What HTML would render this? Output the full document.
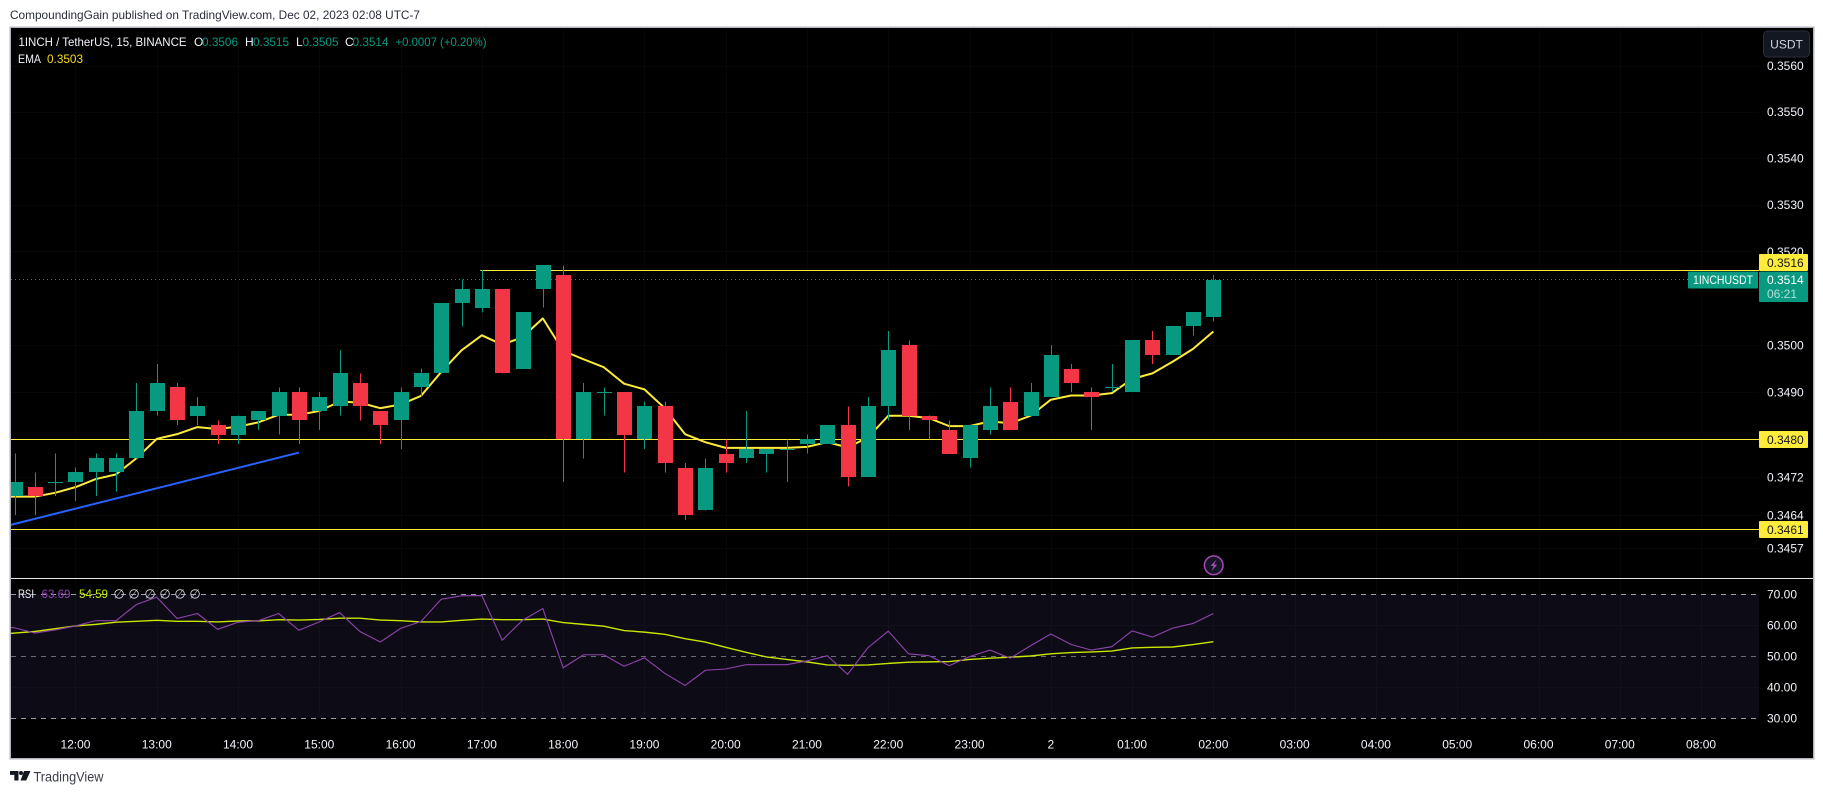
<!DOCTYPE html>
<html lang="en">
<head>
<meta charset="utf-8">
<title>1INCH / TetherUS chart</title>
<style>
html,body{margin:0;padding:0;background:#fff;width:1823px;height:794px;overflow:hidden}
svg{display:block;position:absolute;left:0;top:0}
text{font-family:"Liberation Sans",sans-serif}
</style>
</head>
<body>
<svg id="chart" xmlns="http://www.w3.org/2000/svg" width="1823" height="794" viewBox="0 0 1823 794">
  <defs>
    <clipPath id="plot-clip"><rect x="11" y="28" width="1748" height="550"></rect></clipPath>
    <clipPath id="rsi-clip"><rect x="11" y="579" width="1748" height="140"></rect></clipPath>
  </defs>
  <rect x="0" y="0" width="1823" height="794" fill="#ffffff"></rect>
  <text x="10" y="19" font-size="12" fill="#2a2e39" textLength="410" lengthAdjust="spacingAndGlyphs">CompoundingGain published on TradingView.com, Dec 02, 2023 02:08 UTC-7</text>
  <rect x="10.25" y="27.25" width="1803.5" height="731.5" fill="#000000" stroke="#b2b5be" stroke-width="1.5"></rect>
  <g id="grid"></g>
  <rect x="11" y="594" width="1748" height="124" fill="#0d0b15"></rect>
  <g id="rsi-grid"></g>
  <g id="levels" clip-path="url(#plot-clip)"></g>
  <g id="ema" clip-path="url(#plot-clip)"></g>
  <g id="candles" clip-path="url(#plot-clip)"></g>
  <line x1="11" x2="1813" y1="578.5" y2="578.5" stroke="#e8e9ee" stroke-width="1"></line>
  <g id="rsi-levels"></g>
  <g id="rsi-lines" clip-path="url(#rsi-clip)"></g>
  <g id="price-axis"></g>
  <g id="rsi-axis"></g>
  <g id="time-axis"></g>

  <g font-size="12">
    <text x="18.5" y="46" fill="#f0f3fa" textLength="168" lengthAdjust="spacingAndGlyphs">1INCH / TetherUS, 15, BINANCE</text>
    <text x="194" y="46" fill="#f0f3fa">O</text>
    <text x="202" y="46" fill="#089981" textLength="36" lengthAdjust="spacingAndGlyphs">0.3506</text>
    <text x="245" y="46" fill="#f0f3fa">H</text>
    <text x="253" y="46" fill="#089981" textLength="36" lengthAdjust="spacingAndGlyphs">0.3515</text>
    <text x="296" y="46" fill="#f0f3fa">L</text>
    <text x="302.5" y="46" fill="#089981" textLength="36" lengthAdjust="spacingAndGlyphs">0.3505</text>
    <text x="345" y="46" fill="#f0f3fa">C</text>
    <text x="352.5" y="46" fill="#089981" textLength="36" lengthAdjust="spacingAndGlyphs">0.3514</text>
    <text x="395.5" y="46" fill="#089981" textLength="91" lengthAdjust="spacingAndGlyphs">+0.0007 (+0.20%)</text>
    <text x="18" y="63" fill="#f0f3fa" textLength="23" lengthAdjust="spacingAndGlyphs">EMA</text>
    <text x="47" y="63" fill="#f7dd1e" textLength="36" lengthAdjust="spacingAndGlyphs">0.3503</text>
  </g>

  <g font-size="12">
    <text x="18" y="598" fill="#f0f3fa" textLength="16" lengthAdjust="spacingAndGlyphs">RSI</text>
    <text x="41.5" y="598" fill="#8e44ad" textLength="29" lengthAdjust="spacingAndGlyphs">63.69</text>
    <text x="79" y="598" fill="#c8f000" textLength="29" lengthAdjust="spacingAndGlyphs">54.59</text>
    <text x="119" y="598.5" fill="#d1d4dc" font-size="13" style="font-family:'DejaVu Sans',sans-serif" text-anchor="middle">∅</text>
    <text x="134" y="598.5" fill="#d1d4dc" font-size="13" style="font-family:'DejaVu Sans',sans-serif" text-anchor="middle">∅</text>
    <text x="150" y="598.5" fill="#d1d4dc" font-size="13" style="font-family:'DejaVu Sans',sans-serif" text-anchor="middle">∅</text>
    <text x="165" y="598.5" fill="#d1d4dc" font-size="13" style="font-family:'DejaVu Sans',sans-serif" text-anchor="middle">∅</text>
    <text x="180" y="598.5" fill="#d1d4dc" font-size="13" style="font-family:'DejaVu Sans',sans-serif" text-anchor="middle">∅</text>
    <text x="195" y="598.5" fill="#d1d4dc" font-size="13" style="font-family:'DejaVu Sans',sans-serif" text-anchor="middle">∅</text>
  </g>

  <g>
    <rect x="1763.5" y="31" width="46" height="26" rx="4" fill="#131722" stroke="#2a2e39"></rect>
    <text x="1786.5" y="48.5" font-size="12" fill="#d1d4dc" text-anchor="middle">USDT</text>
  </g>

  <g>
    <circle cx="1213.7" cy="565.3" r="9.3" fill="#131722" stroke="#ab47bc" stroke-width="1.5"></circle>
    <path d="M1216.5 559.5 L1210.5 566 L1213.6 566 L1211.5 571.3 L1217.2 564.6 L1214 564.6 Z" fill="#ab47bc"></path>
  </g>

  <g>
    <path d="M10 771h8.5v9.5h-4.2v-5.6H10z M24 771h6.5l-4.3 9.5h-5.7z" fill="#131722"></path>
    <circle cx="21" cy="773" r="2" fill="#131722"></circle>
    <text x="33.5" y="781.5" font-size="14" fill="#3a3d47" textLength="70" lengthAdjust="spacingAndGlyphs">TradingView</text>
  </g>
</svg>

<script>
// ---- price series (OHLC) ----
const opens = [0.3468,0.3470,0.3471,0.3471,0.3473,0.3473,0.3476,0.3486,0.3491,0.3485,0.3483,0.3481,0.3484,0.3485,0.3490,0.3486,0.3487,0.3492,0.3486,0.3484,0.3491,0.3494,0.3509,0.3508,0.3512,0.3495,0.3512,0.3515,0.3480,0.3490,0.3490,0.3480,0.3487,0.3474,0.3465,0.3477,0.3476,0.3477,0.3478,0.3479,0.3479,0.3483,0.3472,0.3487,0.3500,0.3485,0.3482,0.3476,0.3482,0.3488,0.3485,0.3489,0.3495,0.3490,0.3491,0.3490,0.3501,0.3498,0.3504,0.3506];
const highs = [0.3477,0.3473,0.3477,0.3474,0.3477,0.3477,0.3492,0.3496,0.3492,0.3489,0.3484,0.3485,0.3486,0.3491,0.3491,0.3490,0.3499,0.3494,0.3486,0.3491,0.3495,0.3509,0.3514,0.3516,0.3512,0.3507,0.3517,0.3517,0.3492,0.3491,0.3490,0.3488,0.3488,0.3475,0.3476,0.3480,0.3486,0.3478,0.3480,0.3481,0.3483,0.3487,0.3489,0.3503,0.3501,0.3485,0.3484,0.3483,0.3491,0.3491,0.3492,0.3500,0.3496,0.3491,0.3496,0.3501,0.3503,0.3504,0.3507,0.3515];
const lows = [0.3464,0.3464,0.3468,0.3467,0.3468,0.3469,0.3476,0.3485,0.3483,0.3483,0.3479,0.3479,0.3482,0.3481,0.3479,0.3482,0.3485,0.3484,0.3479,0.3478,0.3489,0.3494,0.3504,0.3507,0.3494,0.3495,0.3508,0.3471,0.3476,0.3485,0.3473,0.3478,0.3473,0.3463,0.3465,0.3473,0.3475,0.3473,0.3471,0.3477,0.3479,0.3470,0.3472,0.3484,0.3482,0.3480,0.3477,0.3474,0.3481,0.3482,0.3485,0.3489,0.3490,0.3482,0.3490,0.3490,0.3496,0.3498,0.3502,0.3505];
const closes = [0.3471,0.3468,0.3471,0.3473,0.3476,0.3476,0.3486,0.3492,0.3484,0.3487,0.3481,0.3485,0.3486,0.3490,0.3484,0.3489,0.3494,0.3487,0.3483,0.3490,0.3494,0.3509,0.3512,0.3512,0.3494,0.3507,0.3517,0.3480,0.3490,0.3490,0.3481,0.3487,0.3475,0.3464,0.3474,0.3475,0.3478,0.3478,0.3478,0.3480,0.3483,0.3472,0.3487,0.3499,0.3485,0.3484,0.3477,0.3483,0.3487,0.3482,0.3490,0.3498,0.3492,0.3489,0.3491,0.3501,0.3498,0.3504,0.3507,0.3514];

// ---- EMA overlay (first value belongs to the bar just off the left edge) ----
const emaValues = [0.34679,0.34679,0.34679,0.34687,0.34699,0.34716,0.34726,0.34760,0.34801,0.34811,0.34826,0.34822,0.34827,0.34836,0.34852,0.34852,0.34860,0.34880,0.34878,0.34866,0.34874,0.34892,0.34943,0.34989,0.35021,0.35001,0.35017,0.35057,0.34988,0.34970,0.34953,0.34918,0.34906,0.34866,0.34811,0.34794,0.34782,0.34782,0.34782,0.34782,0.34784,0.34794,0.34783,0.34804,0.34850,0.34850,0.34845,0.34828,0.34828,0.34838,0.34834,0.34850,0.34884,0.34893,0.34893,0.34898,0.34928,0.34940,0.34965,0.34992,0.35029];

// ---- RSI pane (first value belongs to the bar just off the left edge) ----
const rsiValues = [59.8,59.2,57.5,58.5,59.8,61.5,61.5,66.7,69.1,62.2,63.8,58.7,61.0,61.5,63.8,58.4,61.1,64.1,58.0,54.6,59.0,61.2,68.4,69.5,69.6,55.2,61.6,65.4,46.3,50.5,50.5,46.8,49.5,44.5,40.6,45.5,45.9,47.3,47.3,47.3,48.5,50.2,44.2,52.8,58.1,50.8,50.2,47.0,49.9,52.0,49.4,53.4,57.2,53.8,52.0,53.1,58.2,56.2,59.1,60.6,63.8];
const rsiMaValues = [56.9,57.5,58.0,58.9,59.8,60.3,61.0,61.3,61.6,61.3,61.3,61.1,61.4,61.4,61.8,61.7,61.9,62.3,62.3,61.7,61.5,61.1,61.1,61.6,62.0,61.8,61.8,62.0,60.9,60.3,59.7,58.3,57.8,57.1,55.7,54.6,52.9,51.3,49.8,49.0,48.2,47.2,47.1,47.2,47.7,48.1,48.2,48.3,49.0,49.4,49.7,50.1,50.8,51.2,51.4,51.7,52.7,52.9,53.0,53.8,54.7];

// ---- axis labels ----
const priceTicks = [0.3560,0.3550,0.3540,0.3530,0.3520,0.3500,0.3490,0.3472,0.3464,0.3457];
const rsiTicks = [70,60,50,40,30];
const rsiLevels = [70,50,30];
const timeLabels = ['12:00','13:00','14:00','15:00','16:00','17:00','18:00','19:00','20:00','21:00','22:00','23:00','2','01:00','02:00','03:00','04:00','05:00','06:00','07:00','08:00'];

// ---- drawings ----
const levelPrices = [0.3516,0.3480,0.3461];
const levelStartIndex = [23,-1,-1];
const trendPrices = [0.34619,0.34772];
const trendIndexes = [-0.22,14];
const lastPrice = 0.3514;

const NS = 'http://www.w3.org/2000/svg';
const GREEN = '#089981', RED = '#f23645', YELLOW = '#ffeb3b';
const PANE_RIGHT = 1759, PANE_LEFT = 11;

function xAt(i){ return 14.5 + 20.32 * i; }
function yPrice(p){ return 65.7 + 16440 * Math.log(0.3560 / p); }
function yRsi(v){ return 656.3 - (v - 50) * 3.1; }
function make(tag, attrs, parent){
  const el = document.createElementNS(NS, tag);
  for (const k in attrs) el.setAttribute(k, attrs[k]);
  parent.appendChild(el);
  return el;
}
function linePath(values, yFn){
  return values.map(function(v, i){ return (i ? 'L' : 'M') + xAt(i - 1).toFixed(2) + ' ' + yFn(v).toFixed(2); }).join(' ');
}

const gridG = document.getElementById('grid');
const rsiGridG = document.getElementById('rsi-grid');
const levelsG = document.getElementById('levels');
const emaG = document.getElementById('ema');
const candlesG = document.getElementById('candles');
const rsiLevelsG = document.getElementById('rsi-levels');
const rsiLinesG = document.getElementById('rsi-lines');
const priceAxisG = document.getElementById('price-axis');
const rsiAxisG = document.getElementById('rsi-axis');
const timeAxisG = document.getElementById('time-axis');

// grid + time axis
timeLabels.forEach(function(label, k){
  const x = Math.round(xAt(3 + 4 * k)) + 0.5;
  const g = make('line', {x1:x, x2:x, y1:28, y2:719, stroke:'#070707', 'stroke-width':1}, gridG);
  
  
  const g2 = make('line', {x1:x, x2:x, y1:594, y2:718, stroke:'#13111b', 'stroke-width':1}, rsiGridG);
  
  
  const t = make('text', {x:xAt(3 + 4 * k), y:748.5, 'font-size':12, fill:'#f0f3fa', 'text-anchor':'middle'}, timeAxisG);
  
  
  t.textContent = label;
});

// price ticks
priceTicks.forEach(function(p){
  const y = yPrice(p);
  const g = make('line', {x1:PANE_LEFT, x2:PANE_RIGHT, y1:Math.round(y) + 0.5, y2:Math.round(y) + 0.5, stroke:'#070707', 'stroke-width':1}, gridG);
  
  
  const t = make('text', {x:1767, y:y + 4.3, 'font-size':12, fill:'#f0f3fa'}, priceAxisG);
  
  
  t.textContent = p.toFixed(4);
});

// horizontal levels and yellow price tags
levelPrices.forEach(function(p, k){
  const y = Math.round(yPrice(p)) + 0.5;
  const start = levelStartIndex[k] < 0 ? PANE_LEFT : xAt(levelStartIndex[k]) - 1.5;
  const l = make('line', {x1:start, x2:PANE_RIGHT, y1:y, y2:y, stroke:YELLOW, 'stroke-width':1}, levelsG);
  
  
  const tagTop = k === 0 ? y - 16.5 : y - 8.5;
  const r = make('rect', {x:1759, y:tagTop, width:49, height:17, rx:1, fill:YELLOW}, priceAxisG);
  
  
  const t = make('text', {x:1767, y:tagTop + 12.8, 'font-size':12, fill:'#131722'}, priceAxisG);
  
  
  t.textContent = p.toFixed(4);
});

// last price line
const lastY = Math.round(yPrice(lastPrice)) - 0.5;
const lastLine = make('line', {x1:PANE_LEFT, x2:1688, y1:lastY, y2:lastY, stroke:GREEN, 'stroke-width':1, 'stroke-dasharray':'1 3'}, levelsG);



// trend line
const trend = make('line', {x1:xAt(trendIndexes[0]), y1:yPrice(trendPrices[0]), x2:xAt(trendIndexes[1]), y2:yPrice(trendPrices[1]), stroke:'#2962ff', 'stroke-width':2}, levelsG);



// EMA
const emaLine = make('path', {d:linePath(emaValues, yPrice), fill:'none', stroke:YELLOW, 'stroke-width':2, 'stroke-linejoin':'round'}, emaG);



// candles
opens.forEach(function(o, i){
  const c = closes[i], up = c >= o;
  const col = up ? GREEN : RED;
  const cx = Math.round(xAt(i));
  const top = Math.round(yPrice(Math.max(o, c)));
  const bot = Math.round(yPrice(Math.min(o, c)));
  const wick = make('rect', {x:cx, y:yPrice(highs[i]), width:1, height:Math.max(1, yPrice(lows[i]) - yPrice(highs[i])), fill:col, 'shape-rendering':'crispEdges'}, candlesG);
  
  
  const body = make('rect', {x:cx - 7, y:top, width:15, height:Math.max(1, bot - top), fill:col, 'shape-rendering':'crispEdges'}, candlesG);
  
  
});

// RSI levels and faint pane grid
rsiTicks.forEach(function(v){
  if (rsiLevels.indexOf(v) >= 0) return;
  const y = Math.round(yRsi(v)) + 0.5;
  const g = make('line', {x1:PANE_LEFT, x2:PANE_RIGHT, y1:y, y2:y, stroke:'#13111b', 'stroke-width':1}, rsiGridG);
  
  
});
rsiLevels.forEach(function(v){
  const y = Math.round(yRsi(v)) + 0.5;
  const l = make('line', {x1:PANE_LEFT, x2:PANE_RIGHT, y1:y, y2:y, stroke: v === 50 ? '#6a6d78' : '#9a9da8', 'stroke-width':1, 'stroke-dasharray':'5 5'}, rsiLevelsG);
  
  
});

// RSI lines
const rsiMaLine = make('path', {d:linePath(rsiMaValues, yRsi), fill:'none', stroke:'#c8e600', 'stroke-width':1.4}, rsiLinesG);


const rsiLine = make('path', {d:linePath(rsiValues, yRsi), fill:'none', stroke:'#8e44ad', 'stroke-width':1.1}, rsiLinesG);



// RSI axis
rsiTicks.forEach(function(v){
  const t = make('text', {x:1767, y:yRsi(v) + 4.3, 'font-size':12, fill:'#f0f3fa'}, rsiAxisG);
  
  
  t.textContent = v.toFixed(2);
});

// symbol tag + live price tag
const symTag = make('rect', {x:1688, y:271.5, width:70, height:17, rx:1, fill:GREEN}, priceAxisG);


const symText = make('text', {x:1693, y:284, 'font-size':12, fill:'#ffffff', textLength:60, lengthAdjust:'spacingAndGlyphs'}, priceAxisG);


symText.textContent = '1INCHUSDT';
const priceTag = make('rect', {x:1759, y:271.5, width:49, height:30.5, rx:1, fill:GREEN}, priceAxisG);


const priceText = make('text', {x:1767, y:284, 'font-size':12, fill:'#ffffff'}, priceAxisG);


priceText.textContent = lastPrice.toFixed(4);
const countdown = make('text', {x:1767, y:298, 'font-size':12, fill:'#b5e0d6'}, priceAxisG);


countdown.textContent = '06:21';
</script>
</body>
</html>
